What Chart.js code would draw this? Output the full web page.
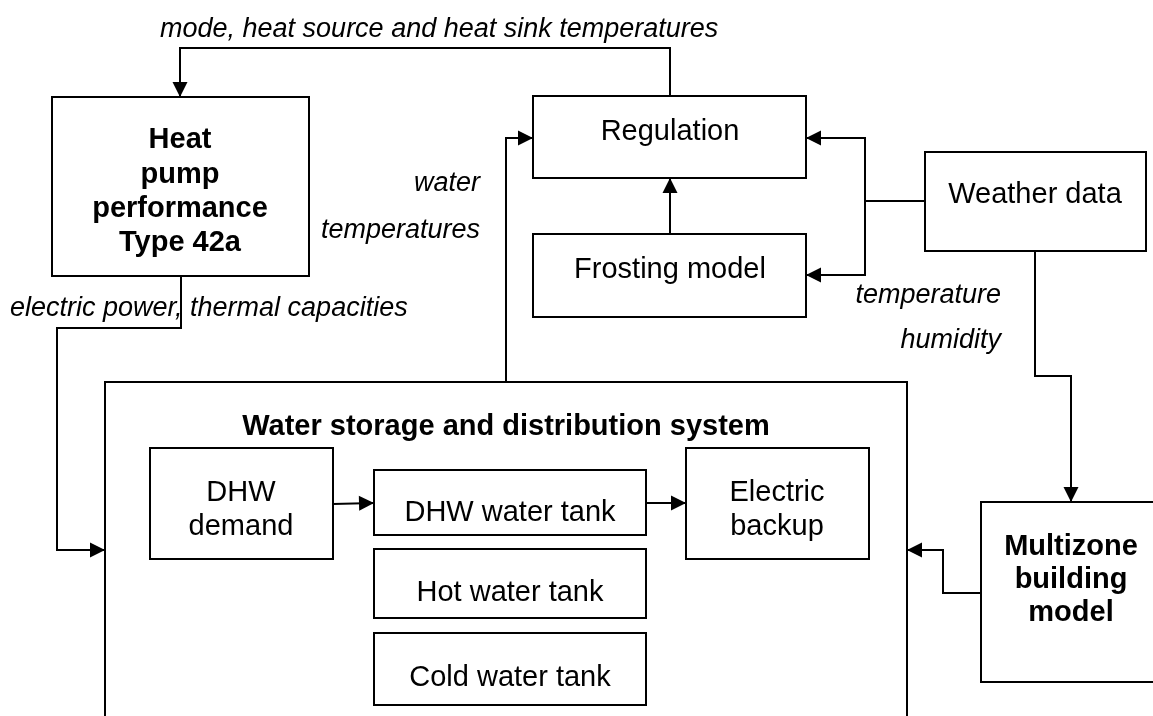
<!DOCTYPE html>
<html>
<head>
<meta charset="utf-8">
<script src="https://cdn.jsdelivr.net/npm/chart.js@4.4.1/dist/chart.umd.min.js"></script>
<style>
  html, body { margin: 0; padding: 0; background: #ffffff; }
  #wrap { width: 1153px; height: 716px; position: relative; }
</style>
</head>
<body>
<div id="wrap"><canvas id="c" width="1153" height="716"></canvas></div>
<script>
// ---- Diagram data (in diagram units, mapped through Chart.js scales) ----
const boxNames  = ['heatpump', 'regulation', 'frosting', 'weather', 'storage', 'dhwDemand', 'dhwTank', 'hotTank', 'coldTank', 'backup', 'multizone'];
const boxLeft   = [52, 533, 533, 925, 105, 150, 374, 374, 374, 686, 981];
const boxTop    = [97, 96, 234, 152, 382, 448, 470, 549, 633, 448, 502];
const boxRight  = [309, 806, 806, 1146, 907, 333, 646, 646, 646, 869, 1170];
const boxBottom = [276, 178, 317, 251, 740, 559, 535, 618, 705, 559, 682];

// connectors: flat lists of x,y pairs; arrow head at the last point
const connectorPaths = [
  [670, 96, 670, 48, 180, 48, 180, 97],
  [181, 276, 181, 328, 57, 328, 57, 550, 105, 550],
  [506, 382, 506, 138, 533, 138],
  [670, 234, 670, 178],
  [925, 201, 865, 201, 865, 138, 806, 138],
  [865, 201, 865, 275, 806, 275],
  [1035, 251, 1035, 376, 1071, 376, 1071, 502],
  [981, 593, 943, 593, 943, 550, 907, 550],
  [333, 504, 374, 503],
  [646, 503, 686, 503]
];

// text labels
const textContent = ['Heat', 'pump', 'performance', 'Type 42a', 'Regulation', 'Frosting model', 'Weather data',
  'Water storage and distribution system', 'DHW', 'demand', 'DHW water tank', 'Hot water tank', 'Cold water tank',
  'Electric', 'backup', 'Multizone', 'building', 'model',
  'mode, heat source and heat sink temperatures', 'water', 'temperatures', 'electric power, thermal capacities',
  'temperature', 'humidity'];
const textX = [180, 180, 180, 180, 670, 670, 1035, 506, 241, 241, 510, 510, 510, 777, 777, 1071, 1071, 1071,
  160, 480, 480, 10, 1001, 1001];
const textY = [140, 175, 209, 243, 132, 270, 195, 427, 493, 527, 513, 593, 678, 493, 527, 547, 580, 613,
  29, 183, 230, 308, 295, 340];
const textKind = ['b', 'b', 'b', 'b', 'r', 'r', 'r', 'b', 'r', 'r', 'r', 'r', 'r', 'r', 'r', 'b', 'b', 'b',
  'i', 'i', 'i', 'i', 'i', 'i'];
const textAnchor = ['c', 'c', 'c', 'c', 'c', 'c', 'c', 'c', 'c', 'c', 'c', 'c', 'c', 'c', 'c', 'c', 'c', 'c',
  'l', 'r', 'r', 'l', 'r', 'r'];

// ---- Build datasets ----
function toPoints(flat) {
  const pts = [];
  for (let i = 0; i < flat.length; i += 2) pts.push({ x: flat[i], y: flat[i + 1] });
  return pts;
}
const lineStyle = { showLine: true, borderColor: '#000', borderWidth: 2, pointRadius: 0, pointHoverRadius: 0,
  fill: false, tension: 0, borderJoinStyle: 'miter', borderCapStyle: 'square' };
const datasets = [];
boxNames.forEach((n, i) => {
  datasets.push(Object.assign({ label: n, data: toPoints([
    boxLeft[i], boxTop[i], boxRight[i], boxTop[i], boxRight[i], boxBottom[i], boxLeft[i], boxBottom[i], boxLeft[i], boxTop[i]
  ]) }, lineStyle));
});
connectorPaths.forEach((p, i) => {
  datasets.push(Object.assign({ label: 'conn' + i, data: toPoints(p) }, lineStyle, { borderCapStyle: 'butt' }));
});

const fontFam = '"Liberation Sans", Arial, sans-serif';
const fonts = { b: 'bold 29px ' + fontFam, r: '29px ' + fontFam, i: 'italic 27px ' + fontFam };

const diagramPlugin = {
  id: 'diagram',
  afterDatasetsDraw(chart) {
    const ctx = chart.ctx, xs = chart.scales.x, ys = chart.scales.y;
    ctx.save();
    // arrow heads
    ctx.fillStyle = '#000';
    connectorPaths.forEach(p => {
      const n = p.length;
      const x1 = xs.getPixelForValue(p[n - 2]), y1 = ys.getPixelForValue(p[n - 1]);
      const x0 = xs.getPixelForValue(p[n - 4]), y0 = ys.getPixelForValue(p[n - 3]);
      const a = Math.atan2(y1 - y0, x1 - x0);
      const L = 15, W = 7.5;
      ctx.beginPath();
      ctx.moveTo(x1, y1);
      ctx.lineTo(x1 - L * Math.cos(a) + W * Math.sin(a), y1 - L * Math.sin(a) - W * Math.cos(a));
      ctx.lineTo(x1 - L * Math.cos(a) - W * Math.sin(a), y1 - L * Math.sin(a) + W * Math.cos(a));
      ctx.closePath();
      ctx.fill();
    });
    // texts
    ctx.textBaseline = 'middle';
    ctx.fillStyle = '#000';
    textContent.forEach((t, i) => {
      ctx.font = fonts[textKind[i]];
      ctx.textAlign = textAnchor[i] === 'c' ? 'center' : (textAnchor[i] === 'l' ? 'left' : 'right');
      ctx.fillText(t, xs.getPixelForValue(textX[i]), ys.getPixelForValue(textY[i]));
    });
    ctx.restore();
  }
};

new Chart(document.getElementById('c'), {
  type: 'scatter',
  data: { datasets },
  options: {
    responsive: false,
    animation: false,
    events: [],
    layout: { padding: 0 },
    plugins: { legend: { display: false }, tooltip: { enabled: false } },
    scales: {
      x: { type: 'linear', min: 0, max: 1153, display: false },
      y: { type: 'linear', min: 0, max: 716, reverse: true, display: false }
    },
    elements: { line: { clip: false } }
  },
  plugins: [diagramPlugin]
});
</script>
</body>
</html>
